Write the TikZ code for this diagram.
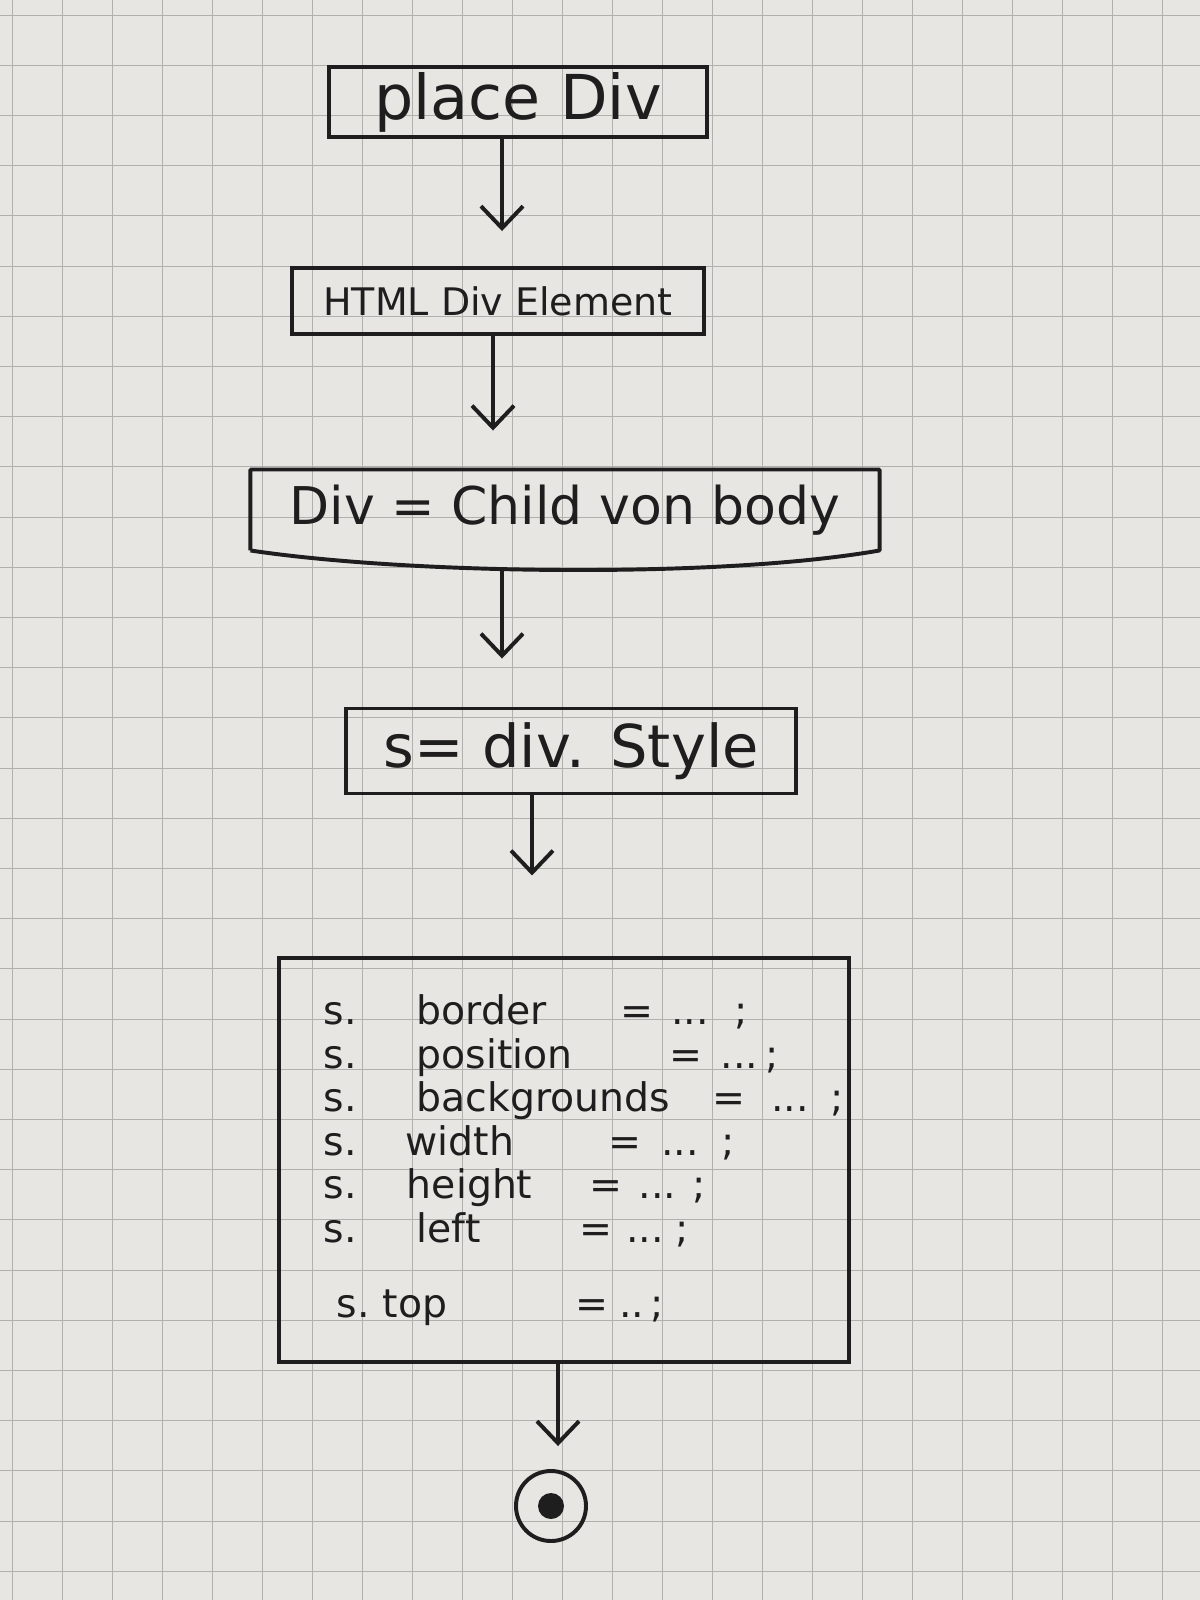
\documentclass[tikz,border=0pt]{standalone}
\usepackage{fontspec}
\newfontfamily\handfont{DejaVu Sans}
\usetikzlibrary{arrows.meta}
\definecolor{paper}{HTML}{E7E6E3}
\definecolor{gridc}{HTML}{B0B0AD}
\definecolor{ink}{HTML}{1E1E1E}
\newcommand\propline[7]{\leavevmode\makebox[0pt][l]{\hspace*{#1}s.}\makebox[0pt][l]{\hspace*{#2}#3}\makebox[0pt][l]{\hspace*{#4}=}\makebox[0pt][l]{\hspace*{#5}#6}\hspace*{#7};}
\tikzset{
  stepbox/.style={draw=ink, line width=2.8pt, inner sep=0pt, text=ink, font=\handfont},
  flow/.style={draw=ink, line width=2.8pt, -{Straight Barb[length=5.5mm,width=10.5mm]}},
  gridline/.style={draw=gridc, line width=0.7pt},
}
\begin{document}
\begin{tikzpicture}[x=0.025cm,y=-0.025cm]
  % paper and grid
  \fill[paper] (0,0) rectangle (1200,1600);
  \useasboundingbox (0,0) rectangle (1200,1600);
  \foreach \i in {0,...,23} \draw[gridline] (12+50*\i,0) -- (12+50*\i,1600);
  \foreach \j in {0,...,31} \draw[gridline] (0,15+50.2*\j) -- (1200,15+50.2*\j);

  % arrow columns
  \coordinate (ax1) at (502,0);
  \coordinate (ax2) at (493,0);
  \coordinate (ax3) at (502,0);
  \coordinate (ax4) at (532,0);
  \coordinate (ax5) at (558,0);

  % boxes
  \node[stepbox, minimum width=94.5mm, minimum height=17.5mm, font=\handfont\fontsize{44}{50}\selectfont]
    (b1) at (518,102) {place Div};
  \node[stepbox, minimum width=102.75mm, minimum height=16.5mm, font=\handfont\fontsize{27}{32}\selectfont]
    (b2) at (498,301) {HTML Div Element};
  \node[stepbox, draw=none, minimum width=156.25mm, minimum height=19.25mm, font=\handfont\fontsize{37}{42}\selectfont]
    (b3) at (565,510) {Div = Child von body};
  \draw[ink, line width=2.8pt, line join=round]
    (b3.south west) -- (b3.north west) -- (b3.north east) -- (b3.south east)
    .. controls ([xshift=-40mm,yshift=-7mm]b3.south east) and ([xshift=40mm,yshift=-6mm]b3.south west) .. (b3.south west);
  \node[stepbox, minimum width=112.25mm, minimum height=21.25mm, font=\handfont\fontsize{42}{48}\selectfont]
    (b4) at (571,751) {s= div. Style};
  \node[stepbox, minimum width=142.5mm, minimum height=100.75mm, inner xsep=11.25mm,
        text width=120mm, align=left, font=\handfont\fontsize{28}{31}\selectfont]
    (b5) at (564,1160) {%
      \propline{0pt}{66pt}{border}{211pt}{247pt}{...}{292pt}\\
      \propline{0pt}{66pt}{position}{246pt}{282pt}{...}{314pt}\\
      \propline{0pt}{66pt}{backgrounds}{276pt}{318pt}{...}{360pt}\\
      \propline{0pt}{58pt}{width}{202pt}{240pt}{...}{283pt}\\
      \propline{0pt}{59pt}{height}{189pt}{224pt}{...}{262pt}\\
      \propline{0pt}{66pt}{left}{182pt}{215pt}{...}{250pt}\\[22pt]
      \propline{9pt}{42pt}{top}{179pt}{210pt}{..}{232pt}};

  % end node
  \node[circle, draw=ink, line width=2.8pt, minimum size=17.5mm, inner sep=0pt] (end) at (551,1506) {};
  \node[circle, fill=ink, minimum size=6.5mm, inner sep=0pt] (enddot) at (end.center) {};

  % connectors
  \draw[flow, shorten >=8.75mm] (b1.south -| ax1) -- (b2.north -| ax1);
  \draw[flow, shorten >=9.75mm] (b2.south -| ax2) -- (b3.north -| ax2);
  \draw[flow, shorten <=4.25mm, shorten >=12mm] (b3.south -| ax3) -- (b4.north -| ax3);
  \draw[flow, shorten >=20.25mm] (b4.south -| ax4) -- (b5.north -| ax4);
  \draw[flow, shorten >=5.75mm] (b5.south -| ax5) -- (end.north -| ax5);
\end{tikzpicture}
\end{document}
